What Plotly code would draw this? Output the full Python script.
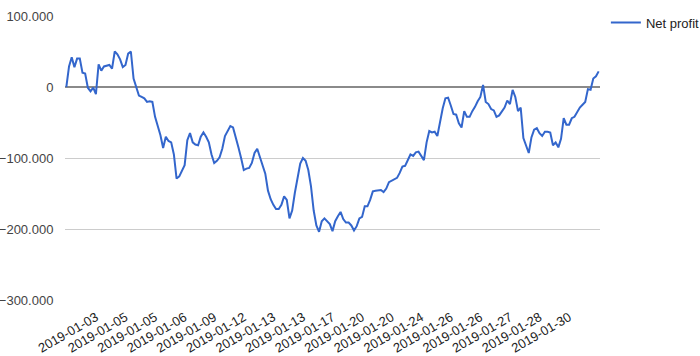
import plotly.graph_objects as go

# Net profit per trade (cumulative)
net_profit = [
    0, 29000, 42000, 28000, 40000, 40000, 20000, 19000, -1000, -6000,
    -1000, -10000, 32000, 23000, 29000, 30000, 31000, 26000, 50000, 46000,
    39000, 28000, 31000, 47000, 50000, 12000, -1000, -12000, -14000, -16000,
    -21000, -20000, -21000, -42000, -55000, -68000, -86000, -70000, -76000, -78000,
    -95000, -129000, -126000, -117000, -110000, -75000, -65000, -78000, -81000, -82000,
    -70000, -64000, -70000, -78000, -95000, -107000, -104000, -99000, -87000, -69000,
    -62000, -55000, -57000, -70000, -85000, -100000, -117000, -115000, -114000, -107000,
    -93000, -87000, -98000, -109000, -122000, -146000, -158000, -166000, -172000, -172000,
    -166000, -154000, -159000, -185000, -174000, -149000, -126000, -108000, -100000, -104000,
    -117000, -140000, -174000, -195000, -204000, -189000, -185000, -189000, -193000, -203000,
    -189000, -182000, -176000, -186000, -191000, -191000, -195000, -202000, -196000, -185000,
    -183000, -168000, -168000, -159000, -147000, -146000, -146000, -145000, -148000, -143000,
    -134000, -132000, -130000, -128000, -121000, -112000, -111000, -103000, -95000, -97000,
    -92000, -91000, -98000, -103000, -78000, -62000, -64000, -63000, -69000, -49000,
    -30000, -16000, -15000, -26000, -38000, -39000, -51000, -57000, -34000, -42000,
    -42000, -34000, -28000, -20000, -14000, 3000, -21000, -24000, -31000, -33000,
    -42000, -40000, -34000, -29000, -19000, -24000, -4000, -14000, -34000, -29000,
    -72000, -84000, -93000, -71000, -60000, -58000, -65000, -69000, -63000, -63000,
    -64000, -82000, -78000, -85000, -73000, -44000, -53000, -53000, -44000, -42000,
    -36000, -29000, -25000, -21000, -3000, -4000, 12000, 15000, 22000,
]

# x-axis labels shown (every 11th trade, as in the reference)
tick_labels = [
    "2019-01-03", "2019-01-05", "2019-01-05", "2019-01-06", "2019-01-09",
    "2019-01-12", "2019-01-13", "2019-01-13", "2019-01-17", "2019-01-20",
    "2019-01-20", "2019-01-24", "2019-01-26", "2019-01-26", "2019-01-27",
    "2019-01-28", "2019-01-30",
]
label_step = 11

y_ticks = [100000, 0, -100000, -200000, -300000]

x_idx = list(range(len(net_profit)))
tick_idx = [label_step * (k + 1) for k in range(len(tick_labels))]

font_family = "Arial, Liberation Sans, sans-serif"

fig = go.Figure()
fig.add_trace(go.Scatter(
    x=x_idx, y=net_profit, mode="lines", name="Net profit",
    line=dict(color="#3366cc", width=2),
))

fig.update_layout(
    width=700, height=356,
    margin=dict(l=65, r=100, t=16, b=56, autoexpand=False),
    paper_bgcolor="white", plot_bgcolor="white",
    separators=",.",
    font=dict(family=font_family, size=13, color="#444"),
    showlegend=True,
    legend=dict(x=1.011, y=1.03, xanchor="left", yanchor="top",
                font=dict(size=13, color="#222"), bgcolor="rgba(0,0,0,0)",
                itemwidth=30),
    xaxis=dict(
        range=[-0.5, len(net_profit) - 0.5], automargin=False,
        tickmode="array", tickvals=tick_idx, ticktext=tick_labels,
        tickangle=-30, showgrid=False, zeroline=False, showline=False,
        ticks="outside", ticklen=4, tickcolor="rgba(0,0,0,0)",
        tickfont=dict(size=13, color="#222"),
    ),
    yaxis=dict(
        range=[-300000, 100000], automargin=False,
        tickmode="array", tickvals=y_ticks, tickformat=",d",
        showgrid=True, gridcolor="#cccccc", gridwidth=1,
        zeroline=True, zerolinecolor="#8a8a8a", zerolinewidth=1.5,
        showline=False, ticks="outside", ticklen=8, tickcolor="rgba(0,0,0,0)",
        tickfont=dict(size=13, color="#444"),
    ),
)

fig.write_html("out.html", config={"displayModeBar": False},
               post_script="document.body.style.margin='0';")
